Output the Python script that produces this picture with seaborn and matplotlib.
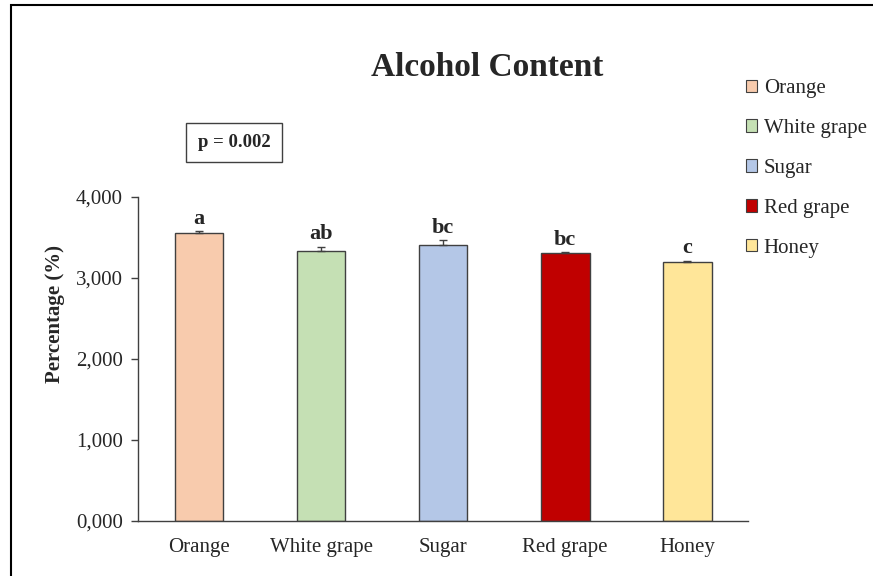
import numpy as np
import pandas as pd
import matplotlib
matplotlib.use("Agg")
import matplotlib.pyplot as plt
import seaborn as sns
from matplotlib.patches import Patch, Rectangle
from matplotlib.ticker import FuncFormatter, FixedLocator

categories = ["Orange", "White grape", "Sugar", "Red grape", "Honey"]
values = [3.555, 3.335, 3.405, 3.305, 3.195]
errors = [0.02, 0.05, 0.06, 0.01, 0.02]
letters = ["a", "ab", "bc", "bc", "c"]
colors = ["#F8CBAD", "#C5E0B4", "#B4C7E7", "#C00000", "#FFE699"]
yticks = [0, 1, 2, 3, 4]

sns.set_style("white")
plt.rcParams["font.family"] = ["Liberation Serif", "DejaVu Serif"]

df = pd.DataFrame({"category": categories, "value": values})

fig = plt.figure(figsize=(8.73, 5.76), dpi=100)
ax = fig.add_axes([0.158, 0.0955, 0.699, 0.5625])

sns.barplot(data=df, x="category", y="value", hue="category",
            palette=colors, saturation=1, width=0.4, edgecolor="#404040",
            linewidth=1.0, legend=False, errorbar=None, ax=ax)
ax.errorbar(range(len(categories)), values, yerr=[[0] * len(errors), errors],
            fmt="none", ecolor="#404040", elinewidth=1, capsize=3)

for i, (v, e, l) in enumerate(zip(values, errors, letters)):
    ax.annotate(l, (i, v + e), xytext=(0, 2), textcoords="offset points",
                ha="center", va="bottom", fontsize=16, fontweight="bold")

ax.set_xlim(-0.5, len(categories) - 0.5)
ax.set_ylim(0, 4)
ax.yaxis.set_major_locator(FixedLocator(yticks))
ax.yaxis.set_major_formatter(FuncFormatter(lambda v, p: f"{v:.3f}".replace(".", ",")))
ax.set_xticks(range(len(categories)))
ax.set_xticklabels(categories)
ax.set_xticks(np.arange(-0.5, len(categories), 1), minor=True)
ax.tick_params(axis="x", which="major", length=0, labelsize=15, pad=12)
ax.tick_params(axis="x", which="minor", length=6, direction="out", color="#404040", width=1)
ax.tick_params(axis="y", length=5, direction="out", color="#404040", width=1, labelsize=15, pad=6, left=True)
ax.set_xlabel("")
ax.set_ylabel("Percentage (%)", fontsize=15, fontweight="bold")
ax.yaxis.set_label_coords(-0.12, 0.64)
sns.despine(ax=ax)
for s in ["left", "bottom"]:
    ax.spines[s].set_color("#404040")
    ax.spines[s].set_linewidth(1)

fig.text(0.558, 0.883, "Alcohol Content", ha="center", va="center",
         fontsize=24, fontweight="bold")
fig.text(0.268, 0.753, "p = 0.002", ha="center", va="center", fontsize=13.5,
         fontweight="bold",
         bbox=dict(boxstyle="square,pad=0.6", facecolor="white", edgecolor="#404040", linewidth=1))

handles = [Patch(facecolor=c, edgecolor="#404040", linewidth=0.8) for c in colors]
fig.legend(handles, categories, loc="upper left", bbox_to_anchor=(0.845, 0.877),
           frameon=False, fontsize=15, handlelength=0.55, handleheight=0.55,
           handletextpad=0.3, labelspacing=1.0, borderaxespad=0)

fig.add_artist(Rectangle((11 / 873, -0.1), 1.2, 1.1 - 5 / 576, transform=fig.transFigure,
                         fill=False, edgecolor="black", linewidth=1.5))

fig.savefig("out.png", dpi=100)
